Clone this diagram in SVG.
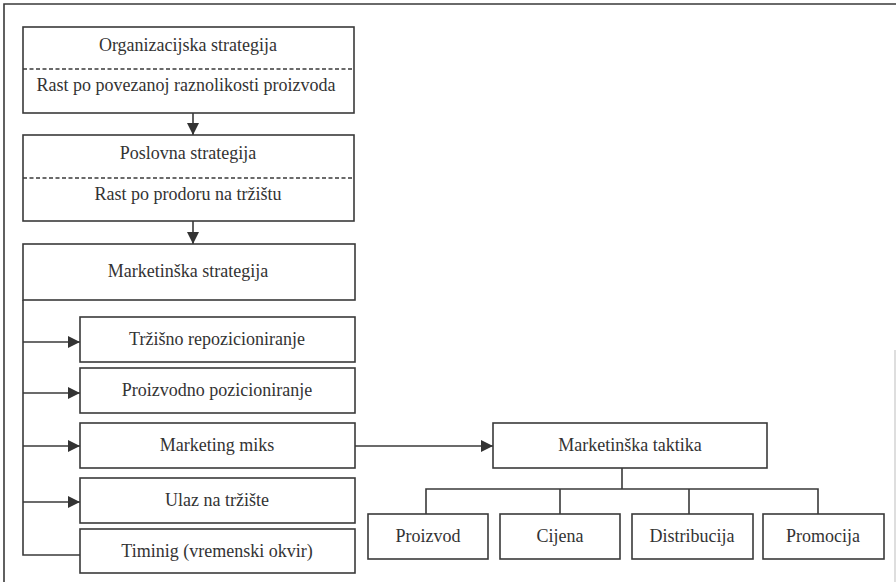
<svg xmlns="http://www.w3.org/2000/svg" width="896" height="582" viewBox="0 0 896 582">
<defs>
<style>
.box{fill:#fff;stroke:#3a3a3a;stroke-width:1.6}
.dash{stroke:#3a3a3a;stroke-width:1.3;stroke-dasharray:4 2.5;fill:none}
.ln{stroke:#3a3a3a;stroke-width:1.6;fill:none}
.t{font-family:'Liberation Serif','Times New Roman',serif;font-size:18px;fill:#333;text-anchor:middle}
</style>
<marker id="ah" markerWidth="12" markerHeight="12" viewBox="0 0 12 12" refX="12" refY="6" orient="auto" markerUnits="userSpaceOnUse">
<path d="M0,0 L12,6 L0,12 Z" fill="#333"/>
</marker>
</defs>
<rect width="896" height="582" fill="#fff"/>
<g id="frame">
<path d="M4,582 V4 H896" class="ln" stroke="#555"/>
<line x1="895" y1="350" x2="895" y2="582" stroke="#c8c8c8" stroke-width="1.2"/>
</g>
<g id="connectors">
<line class="ln" x1="193" y1="113" x2="193" y2="135" marker-end="url(#ah)"/>
<line class="ln" x1="193" y1="221" x2="193" y2="244" marker-end="url(#ah)"/>
<path class="ln" d="M23,300 V555 H80"/>
<line class="ln" x1="23" y1="342" x2="80" y2="342" marker-end="url(#ah)"/>
<line class="ln" x1="23" y1="393" x2="80" y2="393" marker-end="url(#ah)"/>
<line class="ln" x1="23" y1="446" x2="80" y2="446" marker-end="url(#ah)"/>
<line class="ln" x1="23" y1="502" x2="80" y2="502" marker-end="url(#ah)"/>
<line class="ln" x1="355" y1="446" x2="493" y2="446" marker-end="url(#ah)"/>
<path class="ln" d="M622,468 V489 M426,514 V489 H818 V514 M560,489 V514 M689,489 V514"/>
</g>
<g id="organizacijska">
<rect class="box" x="23" y="27" width="331" height="86"/>
<line class="dash" x1="23" y1="69" x2="354" y2="69"/>
<text class="t" x="188" y="51">Organizacijska strategija</text>
<text class="t" x="186" y="91">Rast po povezanoj raznolikosti proizvoda</text>
</g>
<g id="poslovna">
<rect class="box" x="23" y="135" width="331" height="86"/>
<line class="dash" x1="23" y1="178" x2="354" y2="178"/>
<text class="t" x="188" y="159">Poslovna strategija</text>
<text class="t" x="188" y="200">Rast po prodoru na tržištu</text>
</g>
<g id="marketinska-strategija">
<rect class="box" x="23" y="244" width="332" height="56"/>
<text class="t" x="188" y="277">Marketinška strategija</text>
</g>
<g id="trzisno">
<rect class="box" x="80" y="317" width="275" height="45"/>
<text class="t" x="217" y="345">Tržišno repozicioniranje</text>
</g>
<g id="proizvodno">
<rect class="box" x="80" y="368" width="275" height="45"/>
<text class="t" x="217" y="396">Proizvodno pozicioniranje</text>
</g>
<g id="marketing-miks">
<rect class="box" x="80" y="423" width="275" height="45"/>
<text class="t" x="217" y="451">Marketing miks</text>
</g>
<g id="ulaz">
<rect class="box" x="80" y="478" width="275" height="45"/>
<text class="t" x="217" y="506">Ulaz na tržište</text>
</g>
<g id="timinig">
<rect class="box" x="80" y="529" width="275" height="44"/>
<text class="t" x="217" y="557">Timinig (vremenski okvir)</text>
</g>
<g id="marketinska-taktika">
<rect class="box" x="493" y="423" width="274" height="45"/>
<text class="t" x="630" y="451">Marketinška taktika</text>
</g>
<g id="proizvod">
<rect class="box" x="368" y="514" width="120" height="45"/>
<text class="t" x="428" y="542">Proizvod</text>
</g>
<g id="cijena">
<rect class="box" x="500" y="514" width="120" height="45"/>
<text class="t" x="560" y="542">Cijena</text>
</g>
<g id="distribucija">
<rect class="box" x="632" y="514" width="121" height="45"/>
<text class="t" x="692" y="542">Distribucija</text>
</g>
<g id="promocija">
<rect class="box" x="763" y="514" width="121" height="45"/>
<text class="t" x="823" y="542">Promocija</text>
</g>
</svg>
